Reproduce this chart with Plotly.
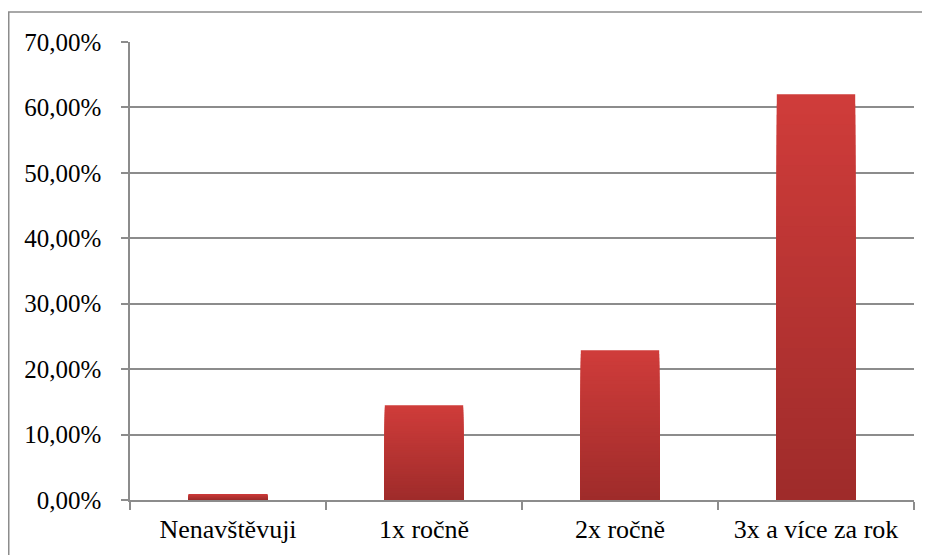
import plotly.graph_objects as go

categories = ["Nenavštěvuji", "1x ročně", "2x ročně", "3x a více za rok"]
values = [0.93, 14.5, 22.9, 62.0]
y_ticks = [0, 10, 20, 30, 40, 50, 60, 70]
y_tick_labels = ["0,00%", "10,00%", "20,00%", "30,00%", "40,00%", "50,00%", "60,00%", "70,00%"]

top_rgb = (207, 60, 58)
bot_rgb = (158, 43, 42)

fig = go.Figure()

N = 40
for k in range(N):
    f = 1 - k / N
    c = tuple(round(bot_rgb[i] + (top_rgb[i] - bot_rgb[i]) * f) for i in range(3))
    fig.add_trace(go.Bar(x=categories, y=[v * f for v in values], width=0.4,
                         marker=dict(color="rgb(%d,%d,%d)" % c, line=dict(width=0)),
                         hoverinfo="skip", showlegend=False))

# page body has an 8px margin, so the figure is drawn 8px right/down
L, R, T, B = 122, 24, 34, 63
PW, PH = 930 - L - R, 555 - T - B

fig.update_layout(
    width=930, height=555,
    margin=dict(l=L, r=R, t=T, b=B, autoexpand=False),
    paper_bgcolor="white", plot_bgcolor="white",
    barmode="overlay",
    font=dict(family="Liberation Serif", size=25, color="black"),
    showlegend=False,
)
fig.update_xaxes(
    type="category", tickson="boundaries", ticks="outside", ticklen=8,
    tickcolor="#8c8c8c", tickwidth=1.5, automargin=False,
    showline=True, linecolor="#8c8c8c", linewidth=1.5,
    showgrid=False, ticklabelstandoff=5,
    tickfont=dict(family="Liberation Serif", size=26, color="black"),
)
fig.update_yaxes(
    range=[0, 70], tickvals=y_ticks, ticktext=y_tick_labels, tickmode="array",
    ticks="outside", ticklen=7, tickcolor="#8c8c8c", tickwidth=1.5, automargin=False,
    showline=True, linecolor="#8c8c8c", linewidth=1.5,
    showgrid=True, gridcolor="#8c8c8c", gridwidth=1.5,
    zeroline=False, ticklabelstandoff=15,
    tickfont=dict(family="Liberation Serif", size=25, color="black"),
)

# outer chart border
fig.add_shape(type="rect", xref="paper", yref="paper",
              x0=(0.75 - L) / PW, x1=(945 - L) / PW,
              y0=-(575 - (555 - B)) / PH, y1=((555 - B) - 4) / PH,
              line=dict(color="#8c8c8c", width=1.5), fillcolor="rgba(0,0,0,0)", layer="below")

fig.write_html("out.html")
